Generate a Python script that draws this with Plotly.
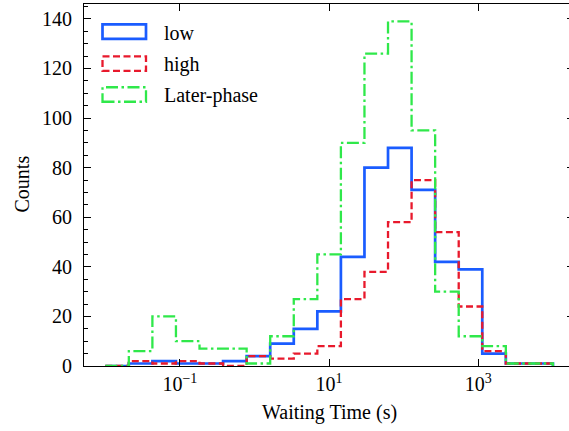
import numpy as np
import plotly.graph_objects as go

# ---- data ----
BIN_EDGES_LOG = list(np.linspace(-2, 4, 20))  # 19 log-spaced bins, 1e-2 .. 1e4 s
low_counts = [0, 1, 2, 1, 1, 2, 4, 9, 15, 22, 44, 80, 88, 71, 42, 39, 5, 1, 1]
high_counts = [0, 2, 1, 2, 1, 0, 4, 3, 5, 8, 27, 38, 58, 75, 54, 24, 6, 1, 1]
later_counts = [0, 6, 20, 10, 7, 7, 1, 12, 27, 45, 90, 126, 139, 95, 30, 12, 8, 1, 1]
series_names = ["low", "high", "Later-phase"]
x_tick_vals = [0.1, 10, 1000]
x_tick_text = ["10<sup>\u22121</sup>", "10<sup>1</sup>", "10<sup>3</sup>"]
y_tick_vals = [0, 20, 40, 60, 80, 100, 120, 140]

# ---- styles ----
W, H = 569, 431
ML, MR, MT, MB = 84, 0, 4, 65
FONT = "Liberation Serif"
colors = ["#1a5cff", "#e8192c", "#2fe84a"]
dashes = ["solid", "7px,3.5px", "12px,3.5px,2.5px,3.5px"]
widths = [2.7, 2.3, 2.3]

edges = [10 ** e for e in BIN_EDGES_LOG]


def step_xy(counts):
    xs = [edges[0]] + edges + [edges[-1]]
    ys = [0] + list(counts) + [counts[-1], 0]
    return xs, ys


fig = go.Figure()
for counts, name, c, d, w in zip([low_counts, high_counts, later_counts],
                                 series_names, colors, dashes, widths):
    xs, ys = step_xy(counts)
    fig.add_trace(go.Scatter(x=xs, y=ys, mode="lines", name=name,
                             line=dict(color=c, width=w, dash=d, shape="hv"),
                             showlegend=False, hoverinfo="skip"))

# invisible trace so the right-hand tick axis is drawn
fig.add_trace(go.Scatter(x=[edges[0]], y=[0], yaxis="y2", mode="markers",
                         marker=dict(opacity=0), showlegend=False, hoverinfo="skip"))

pw = W - ML - MR
ph = H - MT - MB


def px2paper_x(px):
    return (px - ML) / pw


def px2paper_y(py):
    return (H - MB - py) / ph


# manual legend (outlined boxes like matplotlib step-histogram handles)
box_x0, box_x1 = 102.5, 146.0
box_centers = [31.7, 63.7, 94.5]
box_h = 14.5
shapes = []
annotations = []
for name, c, d, w, cy in zip(series_names, colors, dashes, widths, box_centers):
    shapes.append(dict(type="rect", xref="paper", yref="paper",
                       x0=px2paper_x(box_x0), x1=px2paper_x(box_x1),
                       y0=px2paper_y(cy + box_h / 2), y1=px2paper_y(cy - box_h / 2),
                       line=dict(color=c, width=w, dash=d), fillcolor="rgba(0,0,0,0)"))
    annotations.append(dict(text=name, xref="paper", yref="paper",
                            x=px2paper_x(162), y=px2paper_y(cy + 1), xanchor="left",
                            yanchor="middle", showarrow=False,
                            font=dict(family=FONT, size=20, color="black")))

annotations.append(dict(text="Waiting Time (s)", xref="paper", yref="paper",
                        x=px2paper_x(329), y=px2paper_y(412), xanchor="center",
                        yanchor="middle", showarrow=False,
                        font=dict(family=FONT, size=20, color="black")))
annotations.append(dict(text="Counts", xref="paper", yref="paper",
                        x=px2paper_x(21.5), y=px2paper_y(184), xanchor="center",
                        yanchor="middle", showarrow=False, textangle=-90,
                        font=dict(family=FONT, size=20, color="black")))

fig.update_layout(
    width=W, height=H,
    margin=dict(l=ML, r=MR, t=MT, b=MB, pad=0),
    paper_bgcolor="white", plot_bgcolor="white",
    showlegend=False,
    font=dict(family=FONT, size=20, color="black"),
    shapes=shapes, annotations=annotations,
    xaxis=dict(type="log", range=[-2.285, 4.215], tickmode="array",
               tickvals=x_tick_vals, ticktext=x_tick_text,
               ticks="inside", ticklen=7, tickwidth=1, tickcolor="black",
               showline=True, linecolor="black", linewidth=1, mirror="ticks",
               showgrid=False, zeroline=False,
               tickfont=dict(family=FONT, size=20, color="black")),
    yaxis=dict(range=[0, 146], tickmode="array", tickvals=y_tick_vals,
               ticks="inside", ticklen=7, tickwidth=1, tickcolor="black",
               showline=True, linecolor="black", linewidth=1,
               showgrid=False, zeroline=False, ticklabelstandoff=7,
               minor=dict(dtick=5, ticks="inside", ticklen=4, tickwidth=1,
                          tickcolor="black", showgrid=False),
               tickfont=dict(family=FONT, size=20, color="black")),
    yaxis2=dict(range=[0, 146], overlaying="y", side="right",
                tickmode="array", tickvals=y_tick_vals, ticks="inside",
                ticklen=2, tickwidth=1, tickcolor="black",
                showticklabels=False, showline=False, showgrid=False,
                zeroline=False),
)

fig.write_html("out.html")
